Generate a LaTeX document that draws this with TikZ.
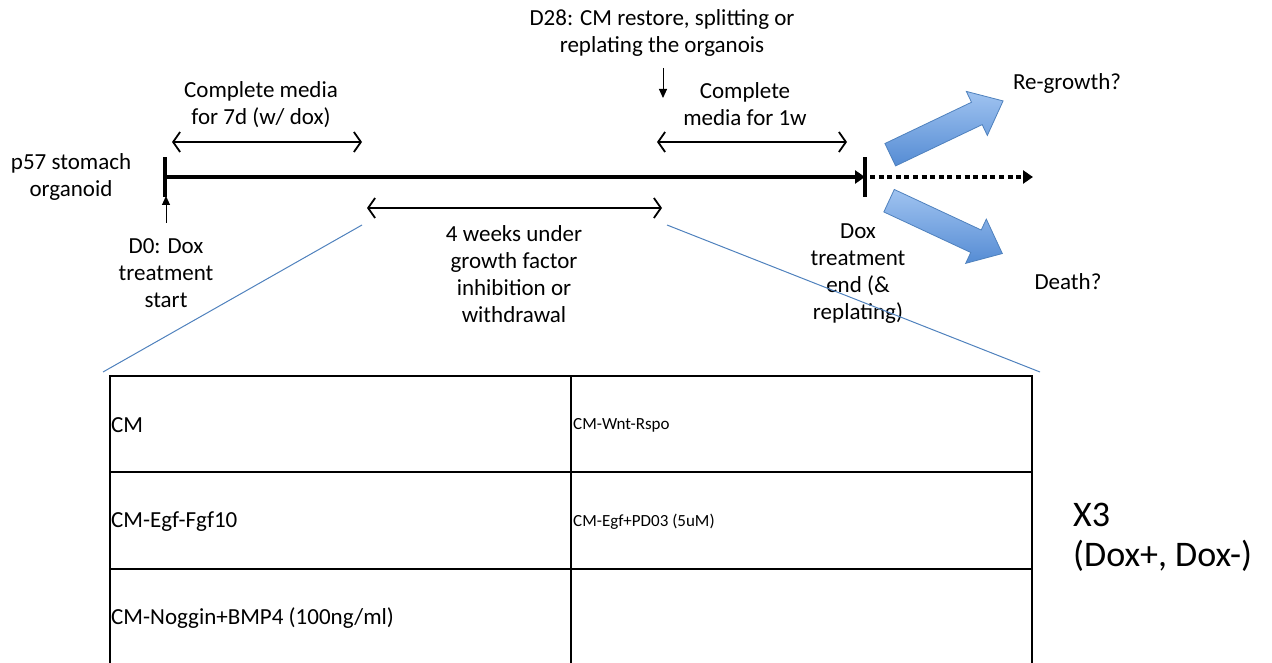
\documentclass[tikz,border=0pt]{standalone}
\usepackage{fontspec}
\setmainfont{Carlito}
\usetikzlibrary{arrows.meta,shapes.arrows}
\definecolor{zoomblue}{RGB}{79,129,189}
\definecolor{arrowtop}{RGB}{160,195,240}
\definecolor{arrowbot}{RGB}{85,140,212}
\tikzset{
  lbl/.style={align=center,inner sep=0pt,font=\fontsize{23}{27}\selectfont},
  cell/.style={anchor=west,inner sep=0pt,font=\fontsize{23}{27}\selectfont},
  smallcell/.style={anchor=west,inner sep=0pt,font=\fontsize{17}{20}\selectfont},
  span/.style={line width=1.8pt,{Straight Barb[length=7pt,width=20pt]}-{Straight Barb[length=7pt,width=20pt]}},
  pointer/.style={line width=1pt,-{Triangle[length=9pt,width=8pt]}},
  tickmark/.style={line width=4pt},
  bigarrow/.style={single arrow,draw=zoomblue,line width=0.8pt,top color=arrowtop,bottom color=arrowbot,
    minimum height=125pt,inner xsep=0pt,inner ysep=12pt,single arrow head extend=12pt,single arrow tip angle=80}
}
\begin{document}
\begin{tikzpicture}[x=1pt,y=-1pt]
\useasboundingbox (0,0) rectangle (1272,663);
% timeline
\coordinate (t0) at (165,177);
\coordinate (t1) at (865,177);
\coordinate (t2) at (1033,177);
\draw[line width=4pt,-{Triangle[length=10pt,width=13pt]}] (t0) -- (t1);
\draw[line width=4pt,dash pattern=on 5pt off 3.6pt,-{Triangle[length=10pt,width=13pt]}] ([xshift=5pt]t1) -- (t2);
\draw[tickmark] ([yshift=-20pt]t0) -- ([yshift=20pt]t0);
\draw[tickmark] ([yshift=-20pt]t1) -- ([yshift=20pt]t1);
% labels
\node[lbl] (d28) at (662,33) {D28: CM restore, splitting or\\replating the organois};
\node[lbl] (cm7) at (261,105) {Complete media\\for 7d (w/ dox)};
\node[lbl] (cm1w) at (745,104) {Complete\\media for 1w};
\node[lbl] (p57) at (71,177) {p57 stomach\\organoid};
\node[lbl] (d0) at (166,273) {D0: Dox\\treatment\\start};
\node[lbl] (weeks) at (514,274) {4 weeks under\\growth factor\\inhibition or\\withdrawal};
\node[lbl] (doxend) at (858,274) {Dox\\treatment\\end (\&\\replating)};
\node[lbl] (regrow) at (1067,83) {Re-growth?};
\node[lbl] (death) at (1068,282) {Death?};
\node[anchor=west,align=left,inner sep=0pt,font=\fontsize{36}{40}\selectfont] (x3) at (1073,537) {X3\\(Dox+, Dox-)};
% spans
\coordinate (a1) at (172,142); \coordinate (a2) at (362,142);
\coordinate (b1) at (367,208); \coordinate (b2) at (662,208);
\coordinate (c1) at (657,142); \coordinate (c2) at (847,142);
\draw[span] (a1) -- (a2);
\draw[span] (b1) -- (b2);
\draw[span] (c1) -- (c2);
% pointers
\coordinate (up0) at (166,223); \coordinate (up1) at (166,196);
\coordinate (dn0) at (663,68); \coordinate (dn1) at (663,98);
\draw[pointer] (up0) -- (up1);
\draw[pointer] (dn0) -- (dn1);
% outcome arrows
\node[bigarrow,rotate=25.5] (grow) at (940,131) {};
\node[bigarrow,rotate=-25] (die) at (939,224) {};
% table
\coordinate (tl) at (110,376); \coordinate (br) at (1032,690);
\coordinate (zl) at (362,225); \coordinate (zr) at (667,225);
\draw[zoomblue,line width=1pt] (zl) -- (103,372);
\draw[zoomblue,line width=1pt] (zr) -- (1040,372);
\draw[line width=2pt] (tl) rectangle (br);
\draw[line width=2pt] (110,472) -- (1032,472);
\draw[line width=2pt] (110,569) -- (1032,569);
\draw[line width=2pt] (571,376) -- (571,690);
\node[cell] (cm) at (111,425) {CM};
\node[cell] (egf) at (111,522) {CM-Egf-Fgf10};
\node[cell] (nog) at (111,618) {CM-Noggin+BMP4 (100ng/ml)};
\node[smallcell] (wnt) at (573,425) {CM-Wnt-Rspo};
\node[smallcell] (pd) at (573,522) {CM-Egf+PD03 (5uM)};
\end{tikzpicture}
\end{document}
